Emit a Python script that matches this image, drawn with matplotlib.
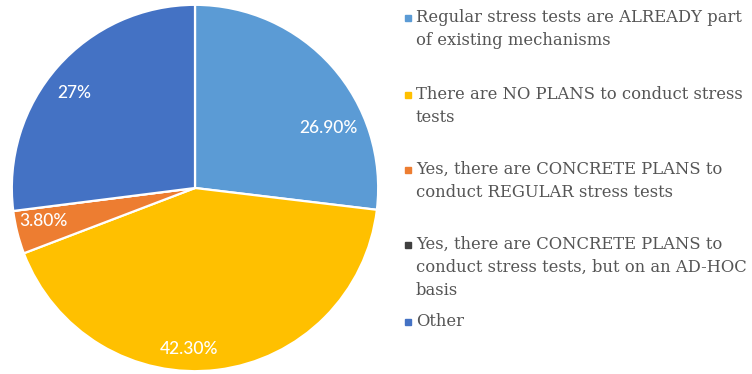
import matplotlib.pyplot as plt

labels = [
    "Regular stress tests are ALREADY part\nof existing mechanisms",
    "There are NO PLANS to conduct stress\ntests",
    "Yes, there are CONCRETE PLANS to\nconduct REGULAR stress tests",
    "Yes, there are CONCRETE PLANS to\nconduct stress tests, but on an AD-HOC\nbasis",
    "Other",
]
values = [26.9, 42.3, 3.8, 0.0, 27.0]
value_text = ["26.90%", "42.30%", "3.80%", "", "27%"]
colors = ["#5B9BD5", "#FFC000", "#ED7D31", "#404040", "#4472C4"]

# where each percentage sits, in pie units (radius = 1)
label_pos = [(0.73, 0.33), (-0.03, -0.88), (-0.83, -0.18), None, (-0.66, 0.52)]
# centre of the first line of each legend entry, pixels from the top
legend_y = [18, 95, 170, 245, 322]

fig = plt.figure(figsize=(7.52, 3.74), dpi=100)
ax = fig.add_axes([10 / 752, 1 / 374, 370 / 752, 370 / 374])
ax.pie(values, colors=colors, startangle=90, counterclock=False,
       wedgeprops=dict(edgecolor="white", linewidth=1.6))
ax.set_xlim(-1.01, 1.01)
ax.set_ylim(-1.01, 1.01)
ax.set_aspect("equal")
ax.axis("off")

for pos, txt in zip(label_pos, value_text):
    if pos is None:
        continue
    ax.text(pos[0], pos[1], txt, color="white", fontsize=12.5,
            family="Lato", weight="medium", ha="center", va="center")

for y, lab, c in zip(legend_y, labels, colors):
    fig.patches.append(plt.Rectangle((405 / 752, 1 - (y + 3) / 374), 6 / 752, 6 / 374,
                                     color=c, transform=fig.transFigure))
    fig.text(416 / 752, 1 - (y - 9) / 374, lab, color="#555555", fontsize=11.8,
             family="DejaVu Serif", va="top", linespacing=1.45)

fig.savefig("out.png", dpi=100)
